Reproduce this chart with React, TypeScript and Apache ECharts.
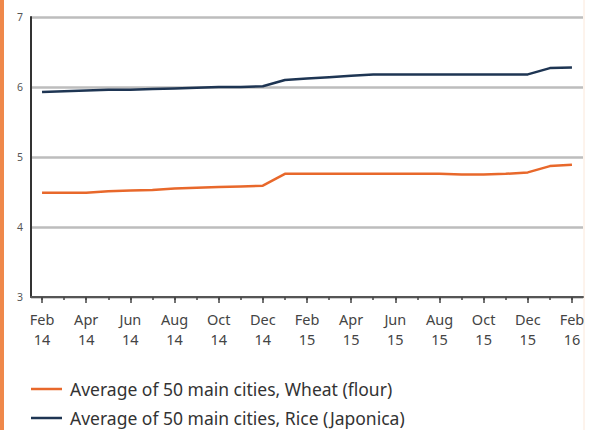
import React, { useEffect, useRef } from "react";
import * as echarts from "echarts";

const months = [
  "Feb\n14", "Mar\n14", "Apr\n14", "May\n14", "Jun\n14", "Jul\n14", "Aug\n14", "Sep\n14", "Oct\n14", "Nov\n14", "Dec\n14",
  "Jan\n15", "Feb\n15", "Mar\n15", "Apr\n15", "May\n15", "Jun\n15", "Jul\n15", "Aug\n15", "Sep\n15", "Oct\n15", "Nov\n15", "Dec\n15",
  "Jan\n16", "Feb\n16",
];

const wheat = [
  4.49, 4.49, 4.49, 4.51, 4.52, 4.53, 4.55, 4.56, 4.57, 4.58, 4.59,
  4.76, 4.76, 4.76, 4.76, 4.76, 4.76, 4.76, 4.76, 4.75, 4.75, 4.76, 4.78,
  4.87, 4.89,
];

const rice = [
  5.93, 5.94, 5.95, 5.96, 5.96, 5.97, 5.98, 5.99, 6.0, 6.0, 6.01,
  6.1, 6.12, 6.14, 6.16, 6.18, 6.18, 6.18, 6.18, 6.18, 6.18, 6.18, 6.18,
  6.27, 6.28,
];

const seriesNames = [
  "Average of 50 main cities, Wheat (flour)",
  "Average of 50 main cities, Rice (Japonica)",
];

const FONT = "'Noto Sans', 'Open Sans', sans-serif";

export default function App() {
  const ref = useRef<HTMLDivElement>(null);
  useEffect(() => {
    if (!ref.current) return;
    const chart = echarts.init(ref.current, null, { renderer: "svg" });
    chart.setOption({
      animation: false,
      backgroundColor: "#ffffff",
      grid: { left: 31, right: 18, top: 17, bottom: 133, containLabel: false },
      xAxis: [
        {
          type: "category",
          data: months,
          boundaryGap: true,
          axisLine: { show: true, lineStyle: { color: "#555", width: 2 } },
          axisTick: { show: true, alignWithLabel: true, interval: 1, length: 6, lineStyle: { color: "#444", width: 1.5 } },
          axisLabel: {
            interval: 1,
            margin: 12,
            fontSize: 14.5,
            lineHeight: 20,
            color: "#444",
            fontFamily: FONT,
          },
          splitLine: { show: false },
        },
        {
          type: "category",
          data: months,
          boundaryGap: true,
          position: "bottom",
          axisLine: { show: false },
          axisTick: { show: true, alignWithLabel: true, interval: 0, length: 3, lineStyle: { color: "#444", width: 1.5 } },
          axisLabel: { show: false },
          splitLine: { show: false },
        },
      ],
      yAxis: {
        type: "value",
        min: 3,
        max: 7,
        interval: 1,
        axisLine: { show: true, lineStyle: { color: "#333", width: 2 } },
        axisTick: { show: false },
        axisLabel: { margin: 8, fontSize: 10.5, color: "#555", fontFamily: FONT },
        splitLine: { show: true, lineStyle: { color: "#bdbdbd", width: 2.5 } },
      },
      legend: {
        orient: "vertical",
        left: 31,
        top: 380,
        padding: 0,
        height: 50,
        icon: "rect",
        itemWidth: 31,
        itemHeight: 2.5,
        itemGap: 11,
        textStyle: { fontSize: 17.5, color: "#333", fontFamily: FONT, padding: [0, 0, 0, 3] },
        data: seriesNames,
      },
      series: [
        {
          name: seriesNames[0],
          type: "line",
          data: wheat,
          symbol: "none",
          lineStyle: { color: "#e8682b", width: 2.5 },
          itemStyle: { color: "#e8682b" },
        },
        {
          name: seriesNames[1],
          type: "line",
          data: rice,
          symbol: "none",
          lineStyle: { color: "#1e3553", width: 2.5 },
          itemStyle: { color: "#1e3553" },
        },
      ],
      graphic: [
        { type: "rect", left: 0, top: 0, shape: { x: 0, y: 0, width: 4, height: 430 }, style: { fill: "#ef884a" } },
        { type: "line", shape: { x1: 584, y1: 0, x2: 584, y2: 430 }, style: { stroke: "#fbe8da", lineWidth: 1 } },
      ],
    });
    return () => chart.dispose();
  }, []);
  return <div ref={ref} style={{ position: "absolute", left: 0, top: 0, width: 601, height: 430 }} />;
}
